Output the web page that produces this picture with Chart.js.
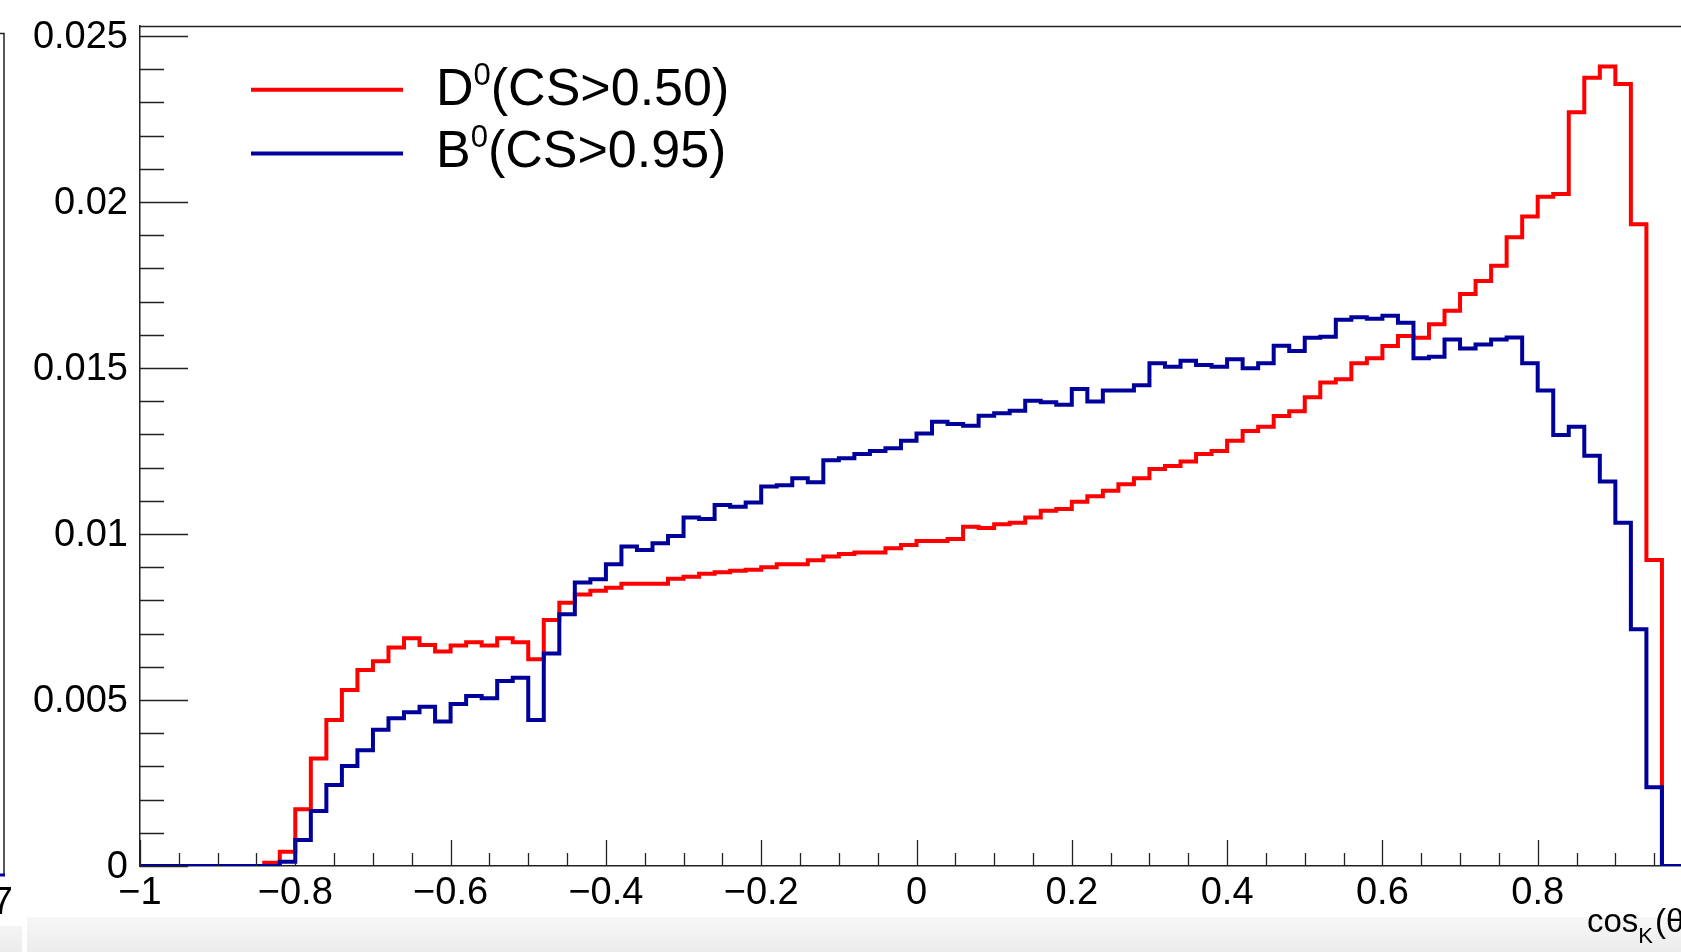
<!DOCTYPE html>
<html>
<head>
<meta charset="utf-8">
<title>cos K distribution</title>
<script src="https://cdn.jsdelivr.net/npm/chart.js@4.4.0/dist/chart.umd.min.js"></script>
<style>
    html, body { margin: 0; padding: 0; background: #fff; overflow: hidden; }
    #wrap { position: relative; width: 1681px; height: 952px; overflow: hidden; }
    #chartBox { position: absolute; left: 0; top: 0; width: 1720px; height: 952px; }
</style>
</head>
<body>
<div id="wrap">
    <div id="chartBox"><canvas id="histo" width="1720" height="952"></canvas></div>
</div>
<script>
// Histogram binning: 100 bins over [-1, 1]
const binLow = -1.0;
const binWidth = 0.02;

// D0 (CS>0.50), bin contents
const d0Values = [
    0, 0, 0, 0, 0, 0, 0, 0, 0.0001, 0.00043,
    0.00171, 0.00324, 0.0044, 0.0053, 0.0059, 0.00617, 0.00658, 0.00686, 0.00666, 0.00646,
    0.00664, 0.00674, 0.00664, 0.00686, 0.00674, 0.00623, 0.00741, 0.00793, 0.00818, 0.00829,
    0.00838, 0.0085, 0.0085, 0.0085, 0.00865, 0.00871, 0.0088, 0.00885, 0.00889, 0.00892,
    0.009, 0.00909, 0.00909, 0.00921, 0.00932, 0.0094, 0.00944, 0.00944, 0.00957, 0.00967,
    0.00979, 0.00979, 0.00985, 0.01022, 0.01018, 0.01029, 0.01034, 0.0105, 0.0107, 0.01075,
    0.01097, 0.01114, 0.0113, 0.0115, 0.01168, 0.01196, 0.01205, 0.01218, 0.01241, 0.0125,
    0.01281, 0.0131, 0.01323, 0.01355, 0.0137, 0.01412, 0.01456, 0.01466, 0.01514, 0.01529,
    0.01566, 0.01596, 0.01591, 0.01632, 0.01672, 0.01723, 0.01762, 0.01808, 0.01894, 0.01956,
    0.02016, 0.02024, 0.0227, 0.02374, 0.02408, 0.02355, 0.01933, 0.00922, 0, 0
];

// B0 (CS>0.95)
const b0Values = [
    0, 0, 0, 0, 0, 0, 0, 0, 0, 0.00013,
    0.00078, 0.00166, 0.00244, 0.00301, 0.00349, 0.0041, 0.00445, 0.00463, 0.0048, 0.00435,
    0.00488, 0.00512, 0.00505, 0.00557, 0.00567, 0.0044, 0.0064, 0.00758, 0.00854, 0.00864,
    0.00909, 0.00962, 0.00952, 0.00972, 0.00994, 0.0105, 0.01045, 0.01087, 0.01082, 0.01095,
    0.01143, 0.01147, 0.01168, 0.01156, 0.01222, 0.01228, 0.01241, 0.0125, 0.01258, 0.01281,
    0.01303, 0.01338, 0.01331, 0.01326, 0.01356, 0.01364, 0.01371, 0.01401, 0.01397, 0.01389,
    0.01437, 0.01399, 0.01432, 0.01432, 0.01448, 0.01514, 0.01504, 0.01522, 0.01509, 0.01504,
    0.01526, 0.01499, 0.01514, 0.01567, 0.01551, 0.01591, 0.01594, 0.01645, 0.01653, 0.01648,
    0.01657, 0.01636, 0.01529, 0.01534, 0.01586, 0.01559, 0.01571, 0.01586, 0.01592, 0.01514,
    0.01432, 0.01298, 0.01323, 0.01236, 0.01158, 0.01034, 0.00713, 0.00237, 0, 0
];

const xTickValues = [-1, -0.8, -0.6, -0.4, -0.2, 0, 0.2, 0.4, 0.6, 0.8, 1];
const xTickLabels = ['\u22121', '\u22120.8', '\u22120.6', '\u22120.4', '\u22120.2', '0', '0.2', '0.4', '0.6', '0.8', '1'];
const yTickValues = [0, 0.005, 0.01, 0.015, 0.02, 0.025];
const yTickLabels = ['0', '0.005', '0.01', '0.015', '0.02', '0.025'];

// legend: base letter, superscript, remainder
const legendBase = ['D', 'B'];
const legendSup = ['0', '0'];
const legendRest = ['(CS>0.50)', '(CS>0.95)'];

const RED = '#ff0000';
const BLUE = '#00009a';
const FONT = '"Liberation Sans", Arial, Helvetica, sans-serif';

// bin contents -> step points at the left edges (+ closing right edge)
function toSteps(values) {
    const pts = values.map((v, i) => ({ x: binLow + i * binWidth, y: v }));
    pts.push({ x: binLow + values.length * binWidth, y: values[values.length - 1] });
    return pts;
}

function tickList(from, to, step) {
    const out = [];
    const n = Math.round((to - from) / step);
    for (let i = 0; i <= n; i++) out.push(from + i * step);
    return out;
}

// drop the label overhang padding so the plot frame sits where the layout says
function noOverhang(s) {
    s.paddingTop = 0;
    s.paddingBottom = 0;
    s.paddingLeft = 0;
    s.paddingRight = 0;
}

// ROOT style frame, inward ticks, legend and axis title
const rootDecor = {
    id: 'rootDecor',
    beforeDraw(chart) {
        const ctx = chart.ctx;
        ctx.save();
        // grey strip along the bottom of the window
        let g = ctx.createLinearGradient(0, 917, 0, 952);
        g.addColorStop(0, '#f7f7f7');
        g.addColorStop(1, '#ececec');
        ctx.fillStyle = g;
        ctx.fillRect(27, 917, chart.width - 27, 35);
        ctx.fillRect(0, 926, 22, 26);

        // edge of the neighbouring pad on the left
        ctx.strokeStyle = '#222';
        ctx.lineWidth = 1.5;
        ctx.beginPath();
        ctx.moveTo(0, 33.5);
        ctx.lineTo(4, 33.5);
        ctx.lineTo(4, 875);
        ctx.stroke();
        ctx.strokeStyle = BLUE;
        ctx.lineWidth = 3;
        ctx.beginPath();
        ctx.moveTo(0, 875);
        ctx.lineTo(5, 875);
        ctx.stroke();
        ctx.fillStyle = '#000';
        ctx.font = '38px ' + FONT;
        ctx.textAlign = 'right';
        ctx.textBaseline = 'alphabetic';
        ctx.fillText('7', 13, 914);
        ctx.restore();
    },
    afterDraw(chart) {
        const { ctx, chartArea: a, scales: { x, y } } = chart;
        ctx.save();
        ctx.strokeStyle = '#222';
        ctx.lineWidth = 1.3;
        ctx.beginPath();
        ctx.moveTo(a.left, a.top + 0.5);
        ctx.lineTo(a.right, a.top + 0.5);
        ctx.lineTo(a.right, a.bottom);

        tickList(-1, 1, 0.05).forEach((v, i) => {
            const px = Math.round(x.getPixelForValue(v)) + 0.5;
            const len = i % 4 === 0 ? 26 : 13;
            ctx.moveTo(px, a.bottom);
            ctx.lineTo(px, a.bottom - len);
        });
        tickList(0, 0.025, 0.001).forEach((v, i) => {
            const py = Math.round(y.getPixelForValue(v)) + 0.5;
            const len = i % 5 === 0 ? 48 : 24;
            ctx.moveTo(a.left, py);
            ctx.lineTo(a.left + len, py);
        });
        ctx.stroke();

        // legend
        const colors = [RED, BLUE];
        const lineY = [89.7, 153.5];
        const baseY = [105, 166.5];
        legendBase.forEach((base, i) => {
            ctx.strokeStyle = colors[i];
            ctx.lineWidth = 4;
            ctx.beginPath();
            ctx.moveTo(251, lineY[i]);
            ctx.lineTo(403, lineY[i]);
            ctx.stroke();

            ctx.fillStyle = '#000';
            ctx.textAlign = 'left';
            ctx.textBaseline = 'alphabetic';
            let tx = 436;
            ctx.font = '52px ' + FONT;
            ctx.fillText(base, tx, baseY[i]);
            tx += ctx.measureText(base).width;
            ctx.font = '31px ' + FONT;
            ctx.fillText(legendSup[i], tx, baseY[i] - 20);
            tx += ctx.measureText(legendSup[i]).width;
            ctx.font = '52px ' + FONT;
            ctx.fillText(legendRest[i], tx, baseY[i]);
        });

        // x axis title, partly outside the window
        ctx.fillStyle = '#000';
        ctx.font = '33px ' + FONT;
        ctx.fillText('cos', 1587, 932);
        let tx = 1587 + ctx.measureText('cos').width;
        ctx.font = '22px ' + FONT;
        ctx.fillText('K', tx, 943);
        ctx.font = '33px ' + FONT;
        ctx.fillText('(\u03b8', 1655, 932);
        ctx.restore();
    }
};

const tickFont = { family: FONT, size: 38 };

new Chart(document.getElementById('histo'), {
    type: 'line',
    data: {
        datasets: [
            {
                label: 'D0(CS>0.50)',
                data: toSteps(d0Values),
                borderColor: RED,
                borderWidth: 4,
                stepped: 'before',
                pointRadius: 0,
                fill: false,
                borderJoinStyle: 'miter',
                borderCapStyle: 'butt',
                order: 2
            },
            {
                label: 'B0(CS>0.95)',
                data: toSteps(b0Values),
                borderColor: BLUE,
                borderWidth: 4,
                stepped: 'before',
                pointRadius: 0,
                fill: false,
                borderJoinStyle: 'miter',
                borderCapStyle: 'butt',
                order: 1
            }
        ]
    },
    options: {
        responsive: false,
        animation: false,
        layout: { padding: { top: 26, right: 27, left: 0, bottom: 0 } },
        plugins: {
            legend: { display: false },
            tooltip: { enabled: false }
        },
        scales: {
            x: {
                type: 'linear',
                min: -1,
                max: 1,
                bounds: 'data',
                grid: { display: false, drawTicks: false },
                border: { display: true, color: '#222', width: 1.5 },
                ticks: {
                    font: tickFont,
                    color: '#000',
                    padding: 5,
                    maxRotation: 0,
                    autoSkip: false,
                    callback: (v, i) => xTickLabels[i]
                },
                afterBuildTicks: s => { s.ticks = xTickValues.map(v => ({ value: v })); },
                afterFit: s => { s.height = 86; noOverhang(s); }
            },
            y: {
                type: 'linear',
                min: 0,
                max: 0.0253,
                bounds: 'data',
                grid: { display: false, drawTicks: false },
                border: { display: true, color: '#222', width: 1.5 },
                ticks: {
                    font: tickFont,
                    color: '#000',
                    padding: 12,
                    labelOffset: 2,
                    autoSkip: false,
                    callback: (v, i) => yTickLabels[i]
                },
                afterBuildTicks: s => { s.ticks = yTickValues.map(v => ({ value: v })); },
                afterFit: s => { s.width = 140; noOverhang(s); }
            }
        }
    },
    plugins: [rootDecor]
});
</script>
</body>
</html>
